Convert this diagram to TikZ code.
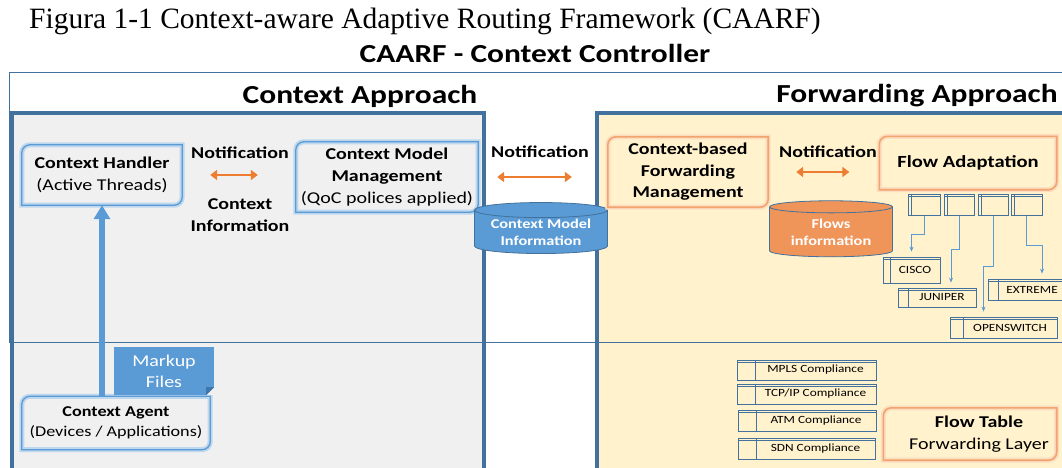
\documentclass[tikz,border=0pt]{standalone}
\usepackage{fontspec}
\setmainfont{Carlito}[FakeStretch=1.21]
\newfontfamily\serifcap{Liberation Serif}
\usetikzlibrary{arrows.meta,shapes.geometric}

\definecolor{frameblue}{HTML}{41719C}
\definecolor{midblue}{HTML}{5B9BD5}
\definecolor{glowblue}{HTML}{BDD7EE}
\definecolor{folddark}{HTML}{3F77AD}
\definecolor{panelgray}{HTML}{F0F0F0}
\definecolor{panelyellow}{HTML}{FFF2CC}
\definecolor{arroworange}{HTML}{ED7D31}
\definecolor{edgeorange}{HTML}{F2A46E}
\definecolor{gloworange}{HTML}{FCDDC0}
\definecolor{cylorange}{HTML}{F0955A}

\newcommand{\diagframe}[2]{%
  \draw[#2] (#1.west) {[rounded corners=8pt] -- (#1.north west) -- (#1.north)}
    -- (#1.north east) -- (#1.east)
    {[rounded corners=8pt] -- (#1.south east) -- (#1.south)}
    -- (#1.south west) -- cycle;}

\tikzset{
  boxtext/.style={align=center, inner sep=0pt, font=\fontsize{16.5}{21.5}\selectfont},
  blueglow/.style={draw=midblue, line width=1.3pt, preaction={draw=glowblue, line width=5pt}},
  orangeglow/.style={draw=edgeorange, line width=1.6pt, preaction={draw=gloworange, line width=5pt}},
  labeltext/.style={align=center, inner sep=0pt, font=\bfseries\fontsize{16.5}{22}\selectfont},
  paneltitle/.style={inner sep=0pt, font=\bfseries\fontsize{26}{28}\selectfont},
  store/.style={cylinder, shape border rotate=90, aspect=0.15, draw=frameblue, line width=0.8pt,
    text=white, align=center, inner sep=0pt, font=\bfseries\fontsize{13.5}{17}\selectfont},
  tabbox/.style={draw=frameblue, line width=0.8pt, inner sep=0pt, font=\fontsize{11}{12}\selectfont,
    execute at begin node=\hspace*{#1},
    path picture={\draw[frameblue, line width=0.6pt]
      ([xshift=#1]path picture bounding box.north west) -- ([xshift=#1]path picture bounding box.south west)
      ([yshift=-2pt]path picture bounding box.north west) -- ([yshift=-2pt]path picture bounding box.north east);}},
  oarrow/.style={arroworange, line width=2.8pt, {Triangle[length=7pt,width=10pt]}-{Triangle[length=7pt,width=10pt]}},
  uparrow/.style={midblue, line width=6pt, -{Triangle[length=14pt,width=16pt]}},
  tarrow/.style={midblue, line width=0.8pt, -{Stealth[length=5pt,width=4pt]}, shorten >=5pt}
}

\begin{document}
\begin{tikzpicture}[x=1pt,y=-1pt]
\useasboundingbox (0,0) rectangle (1062,468);
\fill[panelgray] (12,113) rectangle (484,480);
\fill[panelyellow] (597,113) rectangle (1080,480);
\draw[frameblue, line width=4pt] (12,480) -- (12,113) -- (484,113) -- (484,480);
\draw[frameblue, line width=4pt] (597,480) -- (597,113) -- (1080,113);
\draw[frameblue, line width=0.8pt] (9,72) rectangle (1080,342);

\node[anchor=west, inner sep=0pt, font=\serifcap\fontsize{29.5}{31}\selectfont] (caption) at (29,21)
  {Figura 1-1 Context-aware Adaptive Routing Framework (CAARF)};
\node[inner sep=0pt, font=\bfseries\fontsize{26}{28}\selectfont] (ctrl) at (535,53) {CAARF - Context Controller};
\node[paneltitle] (capp) at (360,96) {Context Approach};
\node[paneltitle] (fapp) at (917,96) {Forwarding Approach};

\node[boxtext, minimum width=160, minimum height=60] (handler) at (102,175)
  {\textbf{Context Handler}\\(Active Threads)};
\node[boxtext, minimum width=182, minimum height=70, font=\fontsize{16.5}{22}\selectfont] (cmm) at (387,177)
  {\textbf{Context Model}\\\textbf{Management}\\(QoC polices applied)};
\node[boxtext, minimum width=188, minimum height=53, font=\fontsize{15}{20}\selectfont] (agent) at (116,423)
  {\textbf{Context Agent}\\(Devices / Applications)};
\diagframe{handler}{blueglow}
\diagframe{cmm}{blueglow}
\diagframe{agent}{blueglow}

\node[labeltext] (notif1) at (240,153) {Notification};
\node[labeltext] (cinfo) at (240,215) {Context\\Information};
\node[labeltext] (notif2) at (540,152) {Notification};
\node[labeltext] (notif3) at (828,152) {Notification};

\node[fill=midblue, text=white, align=center, inner sep=0pt, minimum width=100, minimum height=48,
  font=\fontsize{16.5}{21}\selectfont] (markup) at (164,371) {Markup\\Files};
\fill[panelgray] ([yshift=8pt]markup.south east) -- (markup.south east) -- ([xshift=-8pt]markup.south east) -- cycle;
\fill[folddark] ([yshift=8pt]markup.south east) -- ([xshift=-8pt]markup.south east)
  -- ([xshift=-8pt,yshift=8pt]markup.south east) -- cycle;

\draw[uparrow] (agent.north -| handler.south) -- (handler.south);

\node[store, fill=midblue, minimum width=133, minimum height=51] (cmi) at (541,232) {Context Model\\Information};
\node[store, fill=cylorange, minimum width=123, minimum height=56] (flows) at (831,232) {Flows\\information};

\node[boxtext, minimum width=160, minimum height=70, font=\bfseries\fontsize{16.5}{21.5}\selectfont] (cbfm) at (688,172)
  {Context-based\\Forwarding\\Management};
\node[boxtext, minimum width=177, minimum height=53, font=\bfseries\fontsize{17}{20}\selectfont] (flowad) at (968,163)
  {Flow Adaptation};
\node[boxtext, minimum width=173, minimum height=52] (ftable) at (970,434)
  {\hspace*{18pt}\begin{tabular}{@{}c@{}}\textbf{Flow Table}\\Forwarding Layer\end{tabular}};
\diagframe{cbfm}{orangeglow}
\diagframe{flowad}{orangeglow}
\diagframe{ftable}{orangeglow}

\draw[oarrow, shorten <=28pt, shorten >=38pt] (handler.east) -- (handler.east -| cmm.west);
\draw[oarrow, shorten <=19pt, shorten >=36pt] (cmm.east) -- (cmm.east -| cbfm.west);
\draw[oarrow, shorten <=28pt, shorten >=30pt] (cbfm.east) -- (cbfm.east -| flowad.west);

\node[tabbox=3pt, minimum width=32, minimum height=21] (s1) at (924,205) {};
\node[tabbox=3pt, minimum width=30, minimum height=21] (s2) at (959,205) {};
\node[tabbox=3pt, minimum width=30, minimum height=21] (s3) at (993,205) {};
\node[tabbox=3pt, minimum width=31, minimum height=21] (s4) at (1026.5,205) {};

\node[tabbox=7pt, minimum width=57, minimum height=26] (cisco) at (911.5,270) {CISCO};
\node[tabbox=10pt, minimum width=78, minimum height=19] (juniper) at (937,297.5) {JUNIPER};
\node[tabbox=10pt, minimum width=78, minimum height=21] (extreme) at (1027,289.5) {EXTREME};
\node[tabbox=13pt, minimum width=107, minimum height=21] (openswitch) at (1003.5,327.5) {OPENSWITCH};

\draw[tarrow] (s1.south) -- ++(0,18) -| (cisco.north);
\draw[tarrow] (s2.south) -- ++(0,33) -| ([xshift=14pt]juniper.north);
\draw[tarrow] (s3.south) -- ++(0,50) -| ([xshift=-20pt]openswitch.north);
\draw[tarrow] (s4.south) -- ++(0,29) -| ([xshift=15pt]extreme.north);

\node[tabbox=18pt, minimum width=139, minimum height=20] (mpls) at (806.5,370) {MPLS Compliance};
\node[tabbox=18pt, minimum width=139, minimum height=20] (tcpip) at (806.5,394) {TCP/IP Compliance};
\node[tabbox=18pt, minimum width=138, minimum height=21] (atm) at (807,420.5) {ATM Compliance};
\node[tabbox=18pt, minimum width=137, minimum height=21] (sdn) at (806.5,448.5) {SDN Compliance};
\end{tikzpicture}
\end{document}
